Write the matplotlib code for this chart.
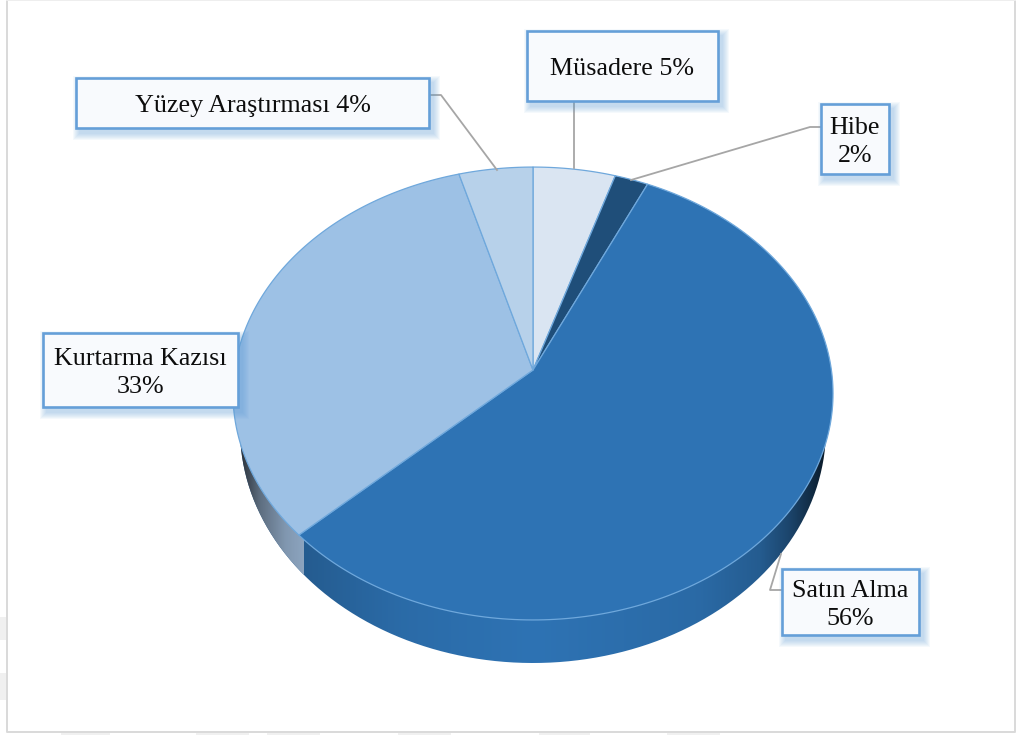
import numpy as np
from matplotlib import pyplot as plt
from matplotlib.patches import Polygon, Rectangle, PathPatch
from matplotlib.path import Path

labels = ["Müsadere 5%", "Hibe\n2%", "Satın Alma\n56%", "Kurtarma Kazısı\n33%", "Yüzey Araştırması 4%"]
# shares, the printed labels are rounded
shares = [4.9, 2.0, 56.1, 32.6, 4.4]
colors = ["#DAE5F2", "#1F4E79", "#2E73B4", "#9DC1E5", "#B7D1EA"]

# label boxes: left, right, top, bottom
boxes = [(527, 718, 31, 101), (821, 889, 104, 174), (782, 919, 569, 635),
         (43, 238, 333, 407), (76, 429, 78, 128)]
leaders = [[(574, 101), (574, 168)],
           [(821, 127), (810, 127), (631, 180)],
           [(782, 590), (770, 590), (781, 554)],
           [],
           [(429, 95), (441, 95), (497, 170)]]

plt.rcParams['font.family'] = ['Liberation Serif', 'DejaVu Serif']
fig = plt.figure(figsize=(10.16, 7.35), dpi=100)
ax = fig.add_axes([0, 0, 1, 1])

# pie plane seen in perspective
cx, cy = 533, 370
a, b, p = 224, 298.4, 0.1038


def project(theta):
    xx, yy = np.sin(theta), np.cos(theta)
    w = 1 + p * yy
    return cx + b * xx / w, cy - a * yy / w


edges = np.cumsum([0] + shares) / sum(shares) * 2 * np.pi

# side wall, gradient per slice
bcx, bcy, brx, bry = 533, 429, 293, 234
xs = np.linspace(238, 828, 600)
wall_main = np.interp(xs, [238, 305, 400, 533, 700, 760, 790, 810, 828],
                      [0.78, 0.80, 0.93, 1.0, 0.92, 0.80, 0.60, 0.40, 0.20])
main_rgb = np.array([0x2E, 0x73, 0xB4]) / 255
img_main = (wall_main[:, None] * main_rgb)[None, :, :]
wall_left = np.interp(xs, [238, 245, 260, 285, 305], [0.22, 0.35, 0.60, 0.82, 0.90])
left_rgb = np.array([0x9D, 0xB8, 0xD6]) / 255
img_left = (wall_left[:, None] * left_rgb)[None, :, :]

t = np.linspace(0, 2 * np.pi, 400)
split_x = project(edges[3])[0] + 5
wall_path = Path(np.column_stack([bcx + brx * np.cos(t), bcy + bry * np.sin(t)]))

im1 = ax.imshow(img_main, extent=(238, 828, 680, 400), aspect='auto', zorder=1, interpolation='bilinear')
clip1 = PathPatch(wall_path, transform=ax.transData, fc='none', ec='none')
ax.add_patch(clip1)
im1.set_clip_path(clip1)
# Kurtarma part of the wall
mask_x = xs < split_x
im2 = ax.imshow(img_left[:, mask_x, :], extent=(238, split_x, 680, 400), aspect='auto', zorder=2,
                interpolation='bilinear')
clip2 = PathPatch(wall_path, transform=ax.transData, fc='none', ec='none')
ax.add_patch(clip2)
im2.set_clip_path(clip2)

# top face
for i, col in enumerate(colors):
    th = np.linspace(edges[i], edges[i + 1], 200)
    px, py = project(th)
    pts = np.column_stack([np.r_[cx, px], np.r_[cy, py]])
    ax.add_patch(Polygon(pts, closed=True, fc=col, ec="#6FA8DC", lw=0.9, zorder=3, joinstyle='round'))

# leaders
for pts in leaders:
    if pts:
        ax.plot([q[0] for q in pts], [q[1] for q in pts], color="#A6A6A6", lw=1.3, zorder=4)

# label boxes with soft shadow
for (x0, x1, y0, y1), txt in zip(boxes, labels):
    for g in range(7, 0, -1):
        ax.add_patch(Rectangle((x0 + 4 - g, y0 + 5 - g), x1 - x0 + 2 * g, y1 - y0 + 2 * g,
                               fc="#5B9BD5", ec='none', alpha=0.06, zorder=5))
    ax.add_patch(Rectangle((x0, y0), x1 - x0, y1 - y0, fc="#F8FAFD", ec="#659FD8", lw=1.9, zorder=6))
    ax.text((x0 + x1) / 2, (y0 + y1) / 2 + 3, txt, ha='center', va='center', fontsize=18.7,
            linespacing=1.38, color="#0D0D0D", zorder=7)

# outer frame and the faint marks around it
ax.plot([7, 7, 1015, 1015], [0, 732, 732, 0], color="#D9D9D9", lw=1.4, zorder=8)
ax.plot([7, 1015], [0, 0], color="#EEEEEE", lw=1.4, zorder=8)
for x0, x1 in [(61, 110), (196, 249), (267, 320), (398, 451), (539, 590), (667, 720)]:
    ax.add_patch(Rectangle((x0, 733), x1 - x0, 3, fc="#F0F0F0", ec='none', zorder=0))
for y0, y1 in [(617, 640), (673, 700)]:
    ax.add_patch(Rectangle((0, y0), 6, y1 - y0, fc="#F0F0F0", ec='none', zorder=0))

ax.set_xlim(0, 1016)
ax.set_ylim(735, 0)
ax.axis('off')
fig.savefig("out.png", dpi=100)
